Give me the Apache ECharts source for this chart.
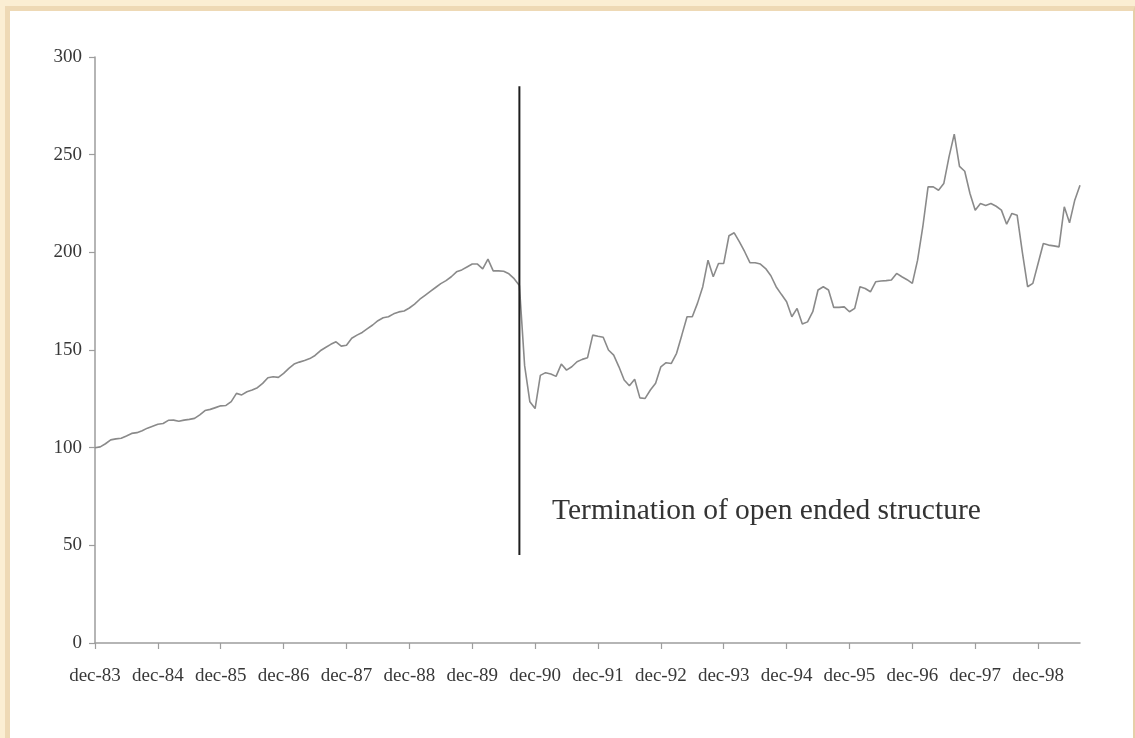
<!DOCTYPE html>
<html>
<head>
<meta charset="utf-8">
<script src="https://cdn.jsdelivr.net/npm/echarts@6.0.0/dist/echarts.min.js"></script>
<style>
  html, body { margin: 0; padding: 0; width: 1135px; height: 738px; overflow: hidden; background: #fbeed3; }
  #frame { position: absolute; left: 5px; top: 6px; width: 1123px; height: 727px; background: #ffffff;
           border-left: 5px solid #eed9b5; border-top: 5px solid #eed9b5; border-right: 2px solid #e6cfa8; border-bottom: 2px solid #e6cfa8; }
  #chart { position: absolute; left: 0; top: 0; width: 1135px; height: 738px; }
</style>
</head>
<body>
<div id="frame"></div>
<div id="chart"></div>
<script>
// Tick labels (one every 12 months, starting dec-83)
const tickLabels = ['dec-83','dec-84','dec-85','dec-86','dec-87','dec-88','dec-89','dec-90',
                    'dec-91','dec-92','dec-93','dec-94','dec-95','dec-96','dec-97','dec-98'];
const monthsPerTick = 12;

// Monthly index values, dec-83 = 100
const indexValues = [
  100, 100.4, 102, 104, 104.5, 104.8, 106, 107.3, 107.7, 108.7,
  110, 111, 112, 112.4, 114, 114.1, 113.5, 114.1, 114.5, 115,
  116.8, 119, 119.6, 120.5, 121.4, 121.6, 123.6, 127.8, 127, 128.6,
  129.5, 130.7, 132.9, 135.8, 136.3, 136, 138, 140.6, 142.8, 143.8,
  144.6, 145.6, 147.2, 149.6, 151.3, 152.9, 154.2, 152, 152.4, 156,
  157.6, 159, 160.9, 162.8, 165, 166.5, 167, 168.5, 169.5, 170,
  171.5, 173.5, 176, 178, 180, 182, 184, 185.5, 187.5, 190,
  191, 192.5, 194, 194, 191.5, 196.5, 190.5, 190.5, 190.3, 189,
  186.5, 183, 142, 123.5, 120, 137, 138.4, 137.7, 136.5, 142.8,
  139.7, 141.4, 144, 145.2, 146, 157.6, 157, 156.5, 150, 147.4,
  141.4, 134.6, 131.7, 135, 125.5, 125.2, 129.5, 133, 141.4, 143.5,
  143.1, 148.3, 157.6, 167, 167, 174, 182.4, 196, 187.5, 194.3,
  194.3, 208.5, 210, 205.4, 200.3, 194.7, 194.7, 194, 191.7, 188,
  182.4, 178.5, 174.7, 167, 171.3, 163.3, 164.4, 169.6, 180.7, 182.4,
  180.7, 171.8, 171.8, 172.1, 169.6, 171.3, 182.4, 181.5, 179.8, 184.9,
  185.3, 185.5, 185.8, 189.2, 187.5, 186, 184.1, 196, 213.1, 233.5,
  233.5, 231.8, 235.2, 248.9, 260.5, 244, 241.5, 230.1, 221.6, 225,
  224, 225, 223.6, 221.6, 214.4, 219.9, 219, 200, 182.4, 184.1,
  194.3, 204.5, 203.7, 203.3, 202.8, 223.3, 215.1, 226.7, 234.4
];

// Vertical marker: termination of the open ended structure
const markerMonth = 81;
const markerRange = [45, 285];
const annotationText = 'Termination of open ended structure';

const yTicks = [0, 50, 100, 150, 200, 250, 300];

const serif = '"Liberation Serif", "Times New Roman", serif';
const tickPositions = tickLabels.map((_, i) => i * monthsPerTick);

const chart = echarts.init(document.getElementById('chart'), null, { renderer: 'canvas' });
chart.setOption({
  animation: false,
  backgroundColor: 'transparent',
  grid: { left: 95, right: 55, top: 57, bottom: 95, containLabel: false },
  xAxis: {
    type: 'value',
    min: 0,
    max: indexValues.length - 1,
    interval: monthsPerTick,
    axisLine: { show: true, lineStyle: { color: '#9d9d9d', width: 1.5 } },
    axisTick: { show: true, length: 6, customValues: tickPositions, lineStyle: { color: '#9d9d9d', width: 1.2 } },
    axisLabel: {
      show: true,
      customValues: tickPositions,
      formatter: v => tickLabels[Math.round(v / monthsPerTick)] || '',
      fontFamily: serif, fontSize: 19, color: '#383838', margin: 24
    },
    splitLine: { show: false }
  },
  yAxis: {
    type: 'value',
    min: yTicks[0],
    max: yTicks[yTicks.length - 1],
    interval: 50,
    axisLine: { show: true, lineStyle: { color: '#9d9d9d', width: 1.5 } },
    axisTick: { show: true, length: 6, lineStyle: { color: '#9d9d9d', width: 1.2 } },
    axisLabel: { fontFamily: serif, fontSize: 19, color: '#383838', margin: 13 },
    splitLine: { show: false }
  },
  series: [
    {
      type: 'line',
      data: indexValues.map((v, i) => [i, v]),
      symbol: 'none',
      lineStyle: { color: '#8a8a8a', width: 1.6 },
      z: 2
    },
    {
      type: 'line',
      data: markerRange.map(v => [markerMonth, v]),
      symbol: 'none',
      lineStyle: { color: '#1e1e1e', width: 2 },
      z: 3
    }
  ],
  graphic: [
    {
      type: 'text',
      left: 552,
      top: 496,
      style: { text: annotationText, font: '29.5px ' + serif, fill: '#333333' }
    }
  ]
});
</script>
</body>
</html>
